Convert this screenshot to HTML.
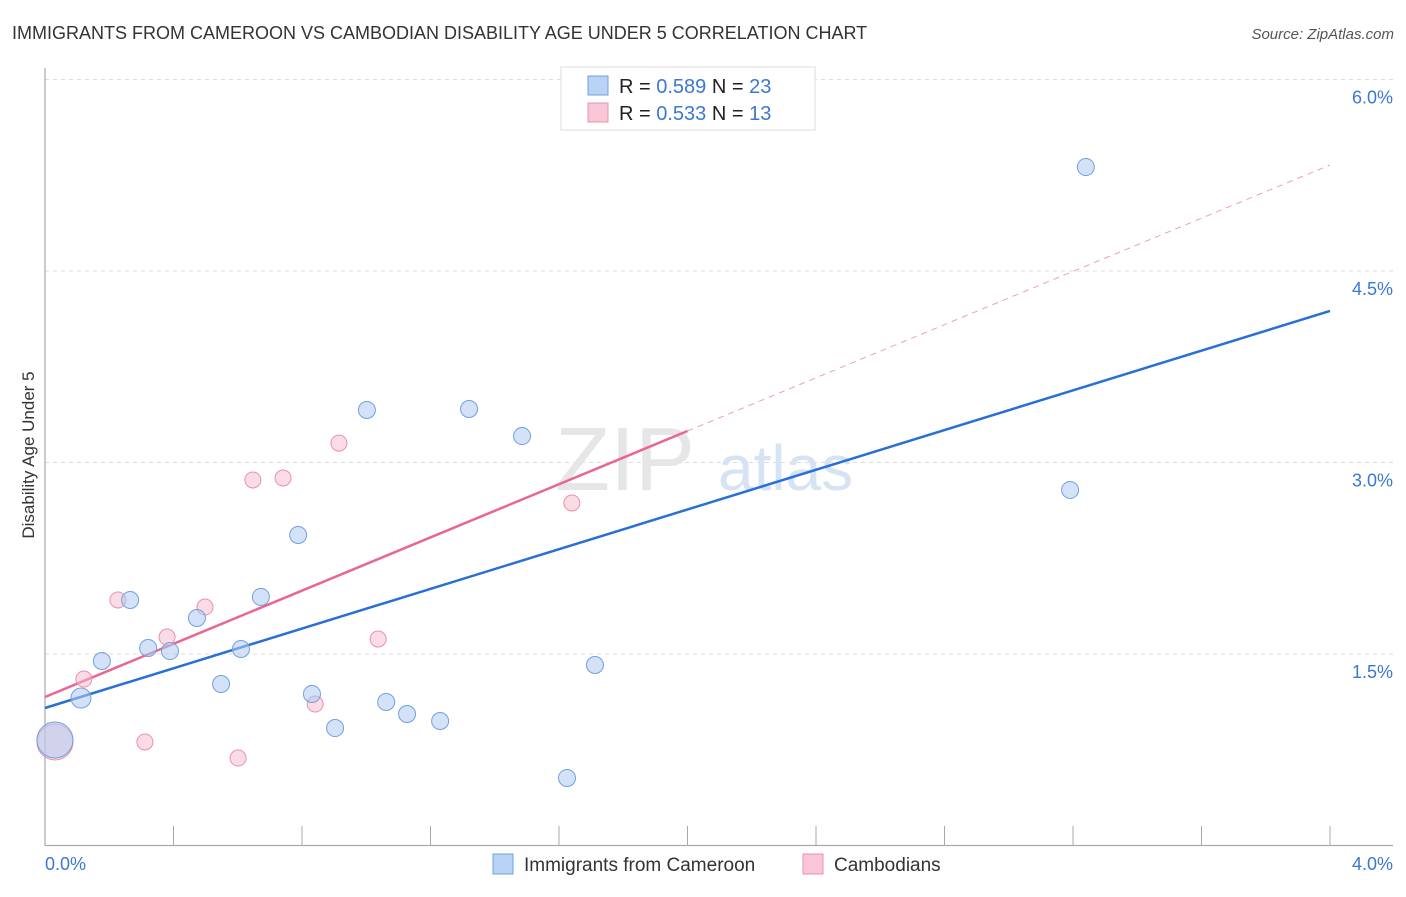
<!DOCTYPE html>
<html><head><meta charset="utf-8"><style>
body{margin:0;background:#fff;font-family:"Liberation Sans",sans-serif;}
svg text{font-family:"Liberation Sans",sans-serif;}
</style></head><body>
<svg id="chart" width="1406" height="892" xmlns="http://www.w3.org/2000/svg">
<text x="12" y="39" font-size="18" fill="#333">IMMIGRANTS FROM CAMEROON VS CAMBODIAN DISABILITY AGE UNDER 5 CORRELATION CHART</text>
<text x="1394" y="39" font-size="15" fill="#555" text-anchor="end" font-style="italic">Source: ZipAtlas.com</text>
<text transform="translate(34,455) rotate(-90)" font-size="17" fill="#333" text-anchor="middle">Disability Age Under 5</text>
<g id="grid"></g>
<text x="555" y="490" font-size="90" fill="#e6e6e6" font-family="Liberation Serif">ZIP</text>
<text x="718" y="490" font-size="64" fill="#d5e3f3">atlas</text>
<g id="lines"></g>
<g id="points"></g>
<g>
<rect x="561" y="67" width="254" height="63" fill="#fff" stroke="#ddd"/>
<rect x="588" y="76" width="20" height="19" fill="#b8d3f4" stroke="#6fa1e0"/>
<rect x="588" y="103" width="20" height="19" fill="#f9c6d5" stroke="#e891ad"/>
<text x="619" y="93" font-size="20" fill="#222">R = <tspan fill="#3a78d4">0.589</tspan>   N = <tspan fill="#3a78d4">23</tspan></text>
<text x="619" y="120" font-size="20" fill="#222">R = <tspan fill="#3a78d4">0.533</tspan>   N = <tspan fill="#3a78d4"> 13</tspan></text>
</g>
<g>
<rect x="493" y="854" width="20" height="20" fill="#b8d3f4" stroke="#6fa1e0"/>
<text x="524" y="871" font-size="19" fill="#333">Immigrants from Cameroon</text>
<rect x="803" y="854" width="20" height="20" fill="#f9c6d5" stroke="#e891ad"/>
<text x="834" y="871" font-size="19" fill="#333">Cambodians</text>
</g>
</svg>
<script>
const yTicks=[1.5,3.0,4.5,6.0];
const yTickLabels=["1.5%","3.0%","4.5%","6.0%"];
const xTickLabels=["0.0%","4.0%"];
const blueX=[0.031,0.112,0.177,0.265,0.321,0.389,0.473,0.548,0.610,0.672,0.788,0.831,0.903,1.002,1.062,1.127,1.230,1.320,1.485,1.625,1.712,3.191,3.240];
const blueY=[0.826,1.155,1.445,1.923,1.547,1.523,1.782,1.265,1.539,1.947,2.432,1.187,0.920,3.411,1.124,1.030,0.975,3.419,3.207,0.529,1.414,2.785,5.314];
const pinkX=[0.031,0.121,0.227,0.311,0.380,0.498,0.601,0.647,0.741,0.841,0.915,1.037,1.640];
const pinkY=[0.811,1.304,1.923,0.811,1.633,1.868,0.685,2.863,2.879,1.108,3.152,1.617,2.683];
const blueLine=[1.077,4.187];
const pinkLine=[1.163,5.330];
const pinkSolidEnd=2.0;
const NS="http://www.w3.org/2000/svg";
const X=v=>45+v*321.25, Y=v=>845.5-v*127.67;
function mk(t,a,p){const e=document.createElementNS(NS,t);for(const k in a)e.setAttribute(k,a[k]);p.appendChild(e);return e;}
const grid=document.getElementById('grid');
yTicks.forEach((t,i)=>{
 const l=mk('line',{x1:45,x2:1393,y1:Y(t),y2:Y(t),stroke:'#ddd','stroke-dasharray':'4,4'},grid);
 
 
 const tx=mk('text',{x:1393,y:Y(t)+24,'font-size':18,fill:'#3a78d4','text-anchor':'end'},grid);
 tx.textContent=yTickLabels[i];
 
 
});
const ax=mk('path',{d:'M45,68V845.5H1393',stroke:'#aaa',fill:'none','stroke-width':1.2},grid);


for(let i=1;i<=10;i++){
 const t=mk('line',{x1:X(i*0.4),x2:X(i*0.4),y1:826,y2:845,stroke:'#aaa'},grid);
 
 
}
[[0,'start',45],[4,'end',1393]].forEach((d,i)=>{
 const tx=mk('text',{x:d[2],y:870,'font-size':18,fill:'#3a78d4','text-anchor':d[1]},grid);
 tx.textContent=xTickLabels[i];
 
 
});
const lines=document.getElementById('lines');
const pl=pinkLine[0]+(pinkLine[1]-pinkLine[0])*pinkSolidEnd/4;
const pd=mk('line',{x1:X(pinkSolidEnd),y1:Y(pl),x2:X(4),y2:Y(pinkLine[1]),stroke:'#eaa0b6','stroke-dasharray':'6,5','stroke-width':1},lines);


const ps=mk('line',{x1:X(0),y1:Y(pinkLine[0]),x2:X(pinkSolidEnd),y2:Y(pl),stroke:'#e8668f','stroke-width':2.5},lines);


const bl=mk('line',{x1:X(0),y1:Y(blueLine[0]),x2:X(4),y2:Y(blueLine[1]),stroke:'#2a6fd6','stroke-width':2.5},lines);


const pts=document.getElementById('points');
pinkX.forEach((x,i)=>{
 const c=mk('circle',{cx:X(x),cy:Y(pinkY[i]),r:i==0?18:8,fill:'rgba(247,184,202,0.5)',stroke:'#e891ad','stroke-width':1},pts);
 
 
});
blueX.forEach((x,i)=>{
 const c=mk('circle',{cx:X(x),cy:Y(blueY[i]),r:i==0?18:(i==1?10:8.5),fill:'rgba(174,203,240,0.55)',stroke:'#6fa1e0','stroke-width':1},pts);
 
 
});
</script>
</body></html>
